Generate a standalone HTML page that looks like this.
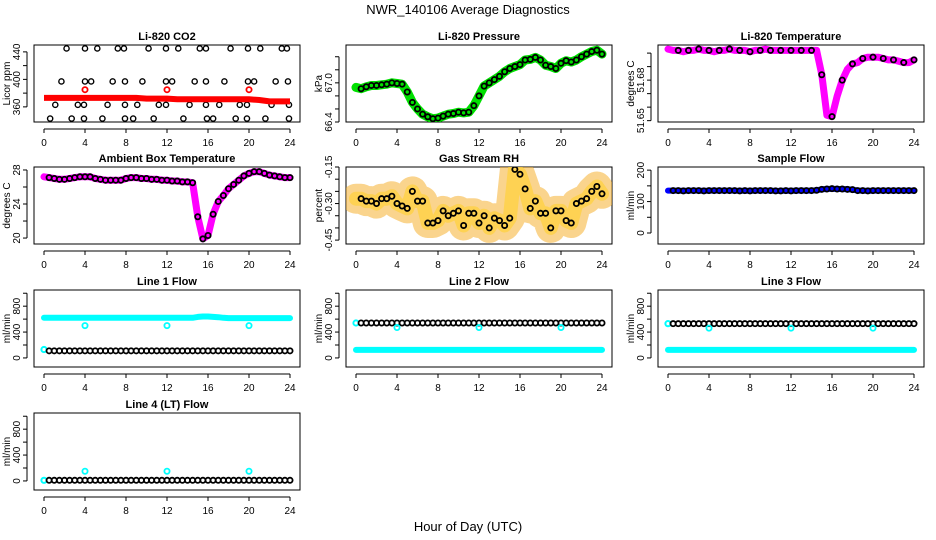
<!DOCTYPE html>
<html><head><meta charset="utf-8"><style>
body{margin:0;background:#fff;}
svg{display:block;font-family:"Liberation Sans",sans-serif;}
</style></head><body>
<svg id="chart" width="936" height="540" viewBox="0 0 936 540">
<text x="468" y="14" text-anchor="middle" font-size="13">NWR_140106  Average Diagnostics</text>
<text x="468" y="531" text-anchor="middle" font-size="13">Hour of Day (UTC)</text>
</svg>
<script>
// ---- data ----
const xTicks = [0,4,8,12,16,20,24];
const co2Hi = [2.2,4.0,5.2,7.2,7.8,10.2,11.9,13.1,15.2,15.8,18.2,19.9,21.1,23.2,23.7];
const co2Mid = [1.7,4.0,4.6,6.7,7.9,9.6,11.9,12.5,14.7,15.8,17.6,19.9,20.5,22.6,23.8];
const co2Low = [1.1,3.3,3.9,6.2,7.9,9.1,11.2,11.9,14.2,15.8,17.1,19.1,19.8,22.2,23.9];
const co2Min = [0.6,2.7,3.9,5.7,7.9,8.7,10.7,13.6,15.9,16.5,18.7,19.8,21.6,23.9];
const co2Levels = [445,397,363,343];
const co2Red = [373,373,373,373,373,373,373,373,373,373,372,372,372,371,371,371,371,371,371,371,371,370,368,368,368];
const calHours = [4,12,20];
const co2Cal = [385,385,385];
const pressure = [66.93,66.91,66.94,66.96,66.96,66.97,66.98,67.0,66.99,66.98,66.86,66.7,66.6,66.52,66.48,66.45,66.46,66.49,66.52,66.53,66.55,66.54,66.55,66.65,66.8,66.95,67.0,67.05,67.1,67.17,67.22,67.25,67.28,67.35,67.36,67.39,67.35,67.27,67.25,67.22,67.3,67.34,67.32,67.35,67.4,67.44,67.48,67.5,67.44];
const liTemp = [51.703,51.702,51.702,51.701,51.702,51.702,51.703,51.702,51.702,51.701,51.702,51.702,51.703,51.702,51.702,51.702,51.701,51.702,51.702,51.703,51.702,51.702,51.702,51.702,51.702,51.702,51.702,51.702,51.702,51.702,51.684,51.654,51.653,51.668,51.680,51.688,51.692,51.693,51.696,51.697,51.697,51.697,51.696,51.695,51.695,51.694,51.693,51.693,51.695];
const ambTemp = [27.2,27.1,27.0,26.9,26.9,27.0,27.1,27.2,27.2,27.2,27.0,26.9,26.8,26.8,26.8,26.8,27.0,27.1,27.1,27.0,27.0,26.9,26.9,26.8,26.8,26.7,26.7,26.6,26.6,26.5,22.5,19.9,20.3,22.8,24.3,25.0,25.8,26.3,26.8,27.3,27.6,27.8,27.8,27.6,27.4,27.3,27.2,27.1,27.1];
const gasRH = [-0.28,-0.28,-0.29,-0.29,-0.30,-0.28,-0.28,-0.27,-0.30,-0.31,-0.32,-0.25,-0.29,-0.29,-0.38,-0.38,-0.37,-0.33,-0.35,-0.34,-0.33,-0.39,-0.34,-0.34,-0.38,-0.35,-0.40,-0.36,-0.37,-0.39,-0.36,-0.16,-0.18,-0.24,-0.32,-0.29,-0.34,-0.34,-0.40,-0.33,-0.33,-0.37,-0.38,-0.30,-0.29,-0.28,-0.25,-0.23,-0.26];
const sampleFlow = [135,135,135,134,135,135,135,134,135,135,135,135,135,135,134,135,134,135,135,135,135,134,134,135,134,135,135,135,135,136,139,140,141,140,140,139,138,135,135,134,135,135,135,135,135,135,135,135,135];
const line1Hi = [620,620,620,620,620,620,620,620,620,620,620,620,620,620,620,620,620,620,620,620,620,620,620,620,620,620,620,620,620,620,635,640,640,635,630,620,615,615,615,615,615,615,615,615,615,615,615,615,615];
const line1Black = 110, line1CyanLow = 130, line1Cal = [500,500,500];
const line2Black = 540, line2Cyan = 125, line2Cal = [470,470,470];
const line3Black = 530, line3Cyan = 125, line3Cal = [460,460,460];
const line4Black = 10, line4Cyan = 10, line4Cal = [150,150,150];

// ---- layout ----
const NS = "http://www.w3.org/2000/svg";
const svg = document.getElementById('chart');
const colL = [34,346,658], rowT = [45,167,290,413], PW = 266, PH = 77;
const half = i => i*0.5;
function mk(tag, attrs, parent){const e=document.createElementNS(NS,tag);for(const k in attrs)e.setAttribute(k,attrs[k]);(parent||svg).appendChild(e);return e;}

function panel(col,row,title,ylab,ylim,yticks,ylabels,name){
  const L=colL[col],T=rowT[row];
  const g=mk('g',{});
  
  
  const xs=h=>L+10+h*(PW-20)/24;
  const ys=v=>T+PH-(v-ylim[0])/(ylim[1]-ylim[0])*PH;
  const t=mk('text',{x:L+PW/2,y:T-5,'text-anchor':'middle','font-size':11,'font-weight':'bold'},g);t.textContent=title;
  
  
  const r=mk('rect',{x:L,y:T,width:PW,height:PH,fill:'none',stroke:'#000','stroke-width':1},g);
  
  
  const xa=mk('g',{},g);
  
  
  mk('line',{x1:xs(0),x2:xs(24),y1:T+PH+7,y2:T+PH+7,stroke:'#000'},xa);
  xTicks.forEach(h=>{mk('line',{x1:xs(h),x2:xs(h),y1:T+PH+7,y2:T+PH+11,stroke:'#000'},xa);
    const tx=mk('text',{x:xs(h),y:T+PH+24,'text-anchor':'middle','font-size':10},xa);tx.textContent=h;});
  const ya=mk('g',{},g);
  
  
  const ax=L-7;
  mk('line',{x1:ax,x2:ax,y1:ys(yticks[0]),y2:ys(yticks[yticks.length-1]),stroke:'#000'},ya);
  yticks.forEach((v,i)=>{mk('line',{x1:ax-4,x2:ax,y1:ys(v),y2:ys(v),stroke:'#000'},ya);
    if(ylabels[i]!==''){const tx=mk('text',{x:ax-7,y:ys(v),'text-anchor':'middle','font-size':10,transform:`rotate(-90 ${ax-7} ${ys(v)})`},ya);tx.textContent=ylabels[i];}});
  const yl=mk('text',{x:L-24,y:T+PH/2,'text-anchor':'middle','font-size':10,transform:`rotate(-90 ${L-24} ${T+PH/2})`},ya);yl.textContent=ylab;
  const clip='c'+name;
  const cp=mk('clipPath',{id:clip},g);mk('rect',{x:L,y:T,width:PW,height:PH},cp);
  const dg=mk('g',{'clip-path':`url(#${clip})`},g);
  return {xs,ys,g:dg};
}
function band(p,vals,color,w,name,op){
  const d=vals.map((v,i)=>(i?'L':'M')+p.xs(half(i)).toFixed(1)+','+p.ys(v).toFixed(1)).join('');
  const e=mk('path',{d,fill:'none',stroke:color,'stroke-width':w,'stroke-linejoin':'round','stroke-linecap':'round','stroke-opacity':op||1},p.g);
  
  
}
function pts(p,hs,vals,color,name,sw){
  const gg=mk('g',{},p.g);
  
  
  hs.forEach((h,i)=>{const v=Array.isArray(vals)?vals[i]:vals;mk('circle',{cx:p.xs(h),cy:p.ys(v),r:2.6,fill:'none',stroke:color,'stroke-width':sw||1.4},gg);});
}
const hourly = pressure.map((_,i)=>half(i)).filter(h=>h>=0.5);

// CO2
let p=panel(0,0,'Li-820 CO2','Licor ppm',[338,450],[360,380,400,420,440],['360','','400','','440'],'co2');
[co2Hi,co2Mid,co2Low,co2Min].forEach((a,i)=>pts(p,a,co2Levels[i],'#000','co2-points-'+i));
{const d=co2Red.map((v,i)=>(i?'L':'M')+p.xs(i).toFixed(1)+','+p.ys(v).toFixed(1)).join('');
 const e=mk('path',{d,fill:'none',stroke:'#f00','stroke-width':6},p.g);
 
 }
pts(p,calHours,co2Cal,'#f00','co2-cal-points',1.8);

// Pressure
p=panel(1,0,'Li-820 Pressure','kPa',[66.4,67.58],[66.4,66.6,66.8,67.0,67.2,67.4],['66.4','','','67.0','',''],'pressure');
band(p,pressure,'#00e000',9,'pressure-band');
pts(p,hourly,pressure.slice(1),'#000','pressure-points',1.8);

// Li temp
p=panel(2,0,'Li-820 Temperature','degrees C',[51.649,51.706],[51.65,51.66,51.67,51.68,51.69,51.70],['51.65','','','51.68','',''],'li-temp');
band(p,liTemp,'#f0f',7,'li-temp-band');
pts(p,hourly.filter((h,i)=>i%2===1),liTemp.filter((v,i)=>i%2===0).slice(1),'#000','li-temp-points',1.8);

// Ambient
p=panel(0,1,'Ambient Box Temperature','degrees C',[19.3,28.35],[20,22,24,26,28],['20','','24','','28'],'ambient');
band(p,ambTemp,'#f0f',7,'ambient-band');
pts(p,hourly,ambTemp.slice(1),'#000','ambient-points',1.8);

// Gas RH
p=panel(1,1,'Gas Stream RH','percent',[-0.466,-0.15],[-0.45,-0.40,-0.35,-0.30,-0.25,-0.20,-0.15],['-0.45','','','-0.30','','','-0.15'],'gas-rh');
band(p,gasRH,'#f5b030',30,'gas-rh-band',0.55);
band(p,gasRH,'#ffd23a',14,'gas-rh-band-inner',0.7);
pts(p,hourly,gasRH.slice(1),'#000','gas-rh-points',1.8);

// Sample flow
p=panel(2,1,'Sample Flow','ml/min',[-35,210],[0,50,100,150,200],['0','','100','','200'],'sample-flow');
band(p,sampleFlow,'#0000ff',6,'sample-flow-band');
pts(p,hourly,sampleFlow.slice(1),'#000','sample-flow-points',1.8);

const flowLim=[-140,1050], flowT=[0,200,400,600,800,1000], flowL=['0','','400','','800',''];
// Line1
p=panel(0,2,'Line 1 Flow','ml/min',flowLim,flowT,flowL,'line1');
band(p,line1Hi,'#00ffff',6,'line1-cyan-high');
pts(p,[0],line1CyanLow,'#00ffff','line1-cyan-low',2);
pts(p,hourly,line1Black,'#000','line1-points',1.8);
pts(p,calHours,line1Cal,'#00ffff','line1-cal-points',1.8);
// Line2
p=panel(1,2,'Line 2 Flow','ml/min',flowLim,flowT,flowL,'line2');
band(p,line1Hi.map(()=>line2Cyan),'#00ffff',6,'line2-cyan');
pts(p,[0],line2Black,'#00ffff','line2-cyan-start',2);
pts(p,hourly,line2Black,'#000','line2-points',1.8);
pts(p,calHours,line2Cal,'#00ffff','line2-cal-points',1.8);
// Line3
p=panel(2,2,'Line 3 Flow','ml/min',flowLim,flowT,flowL,'line3');
band(p,line1Hi.map(()=>line3Cyan),'#00ffff',6,'line3-cyan');
pts(p,[0],line3Black,'#00ffff','line3-cyan-start',2);
pts(p,hourly,line3Black,'#000','line3-points',1.8);
pts(p,calHours,line3Cal,'#00ffff','line3-cal-points',1.8);
// Line4
p=panel(0,3,'Line 4 (LT) Flow','ml/min',flowLim,flowT,flowL,'line4');
pts(p,[0],line4Cyan,'#00ffff','line4-cyan-start',2);
pts(p,hourly,line4Black,'#000','line4-points',1.8);
pts(p,calHours,line4Cal,'#00ffff','line4-cal-points',1.8);
</script>
</body></html>
